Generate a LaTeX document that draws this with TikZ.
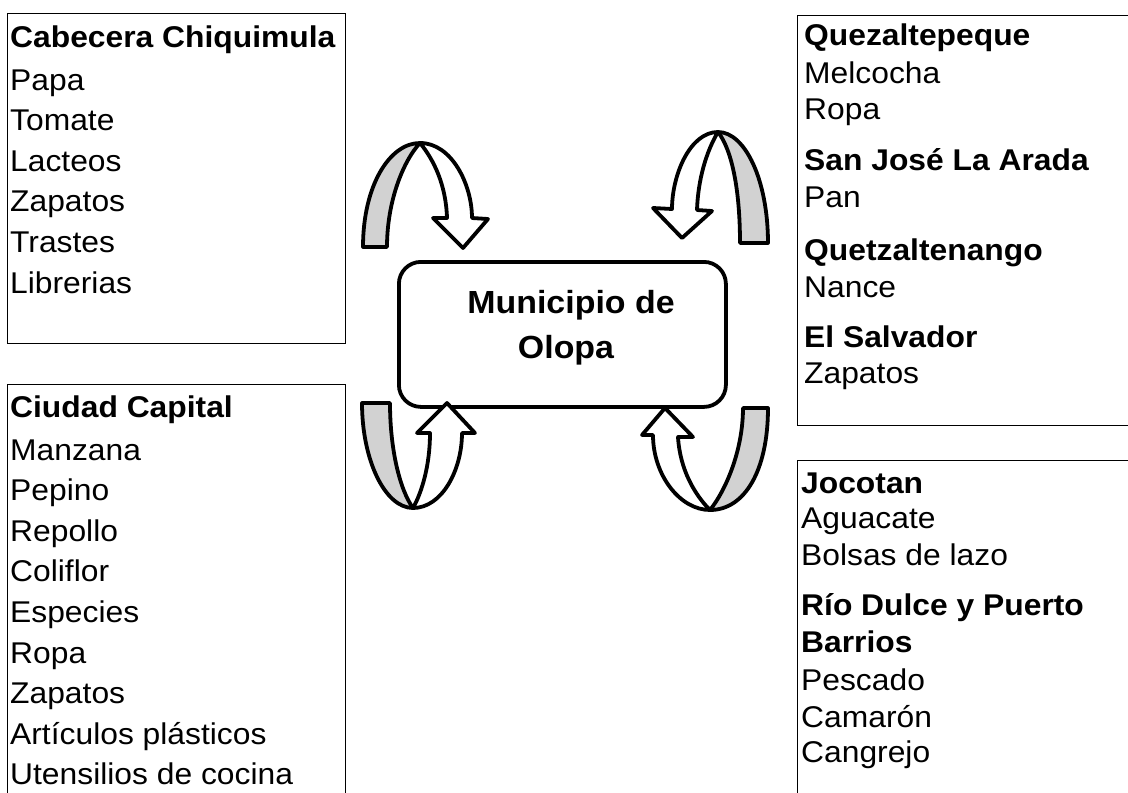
\documentclass[tikz,border=0pt]{standalone}
\usepackage{fontspec}
\setmainfont{Liberation Sans}[FakeStretch=1.06]
\begin{document}
\begin{tikzpicture}[x=1pt,y=-1pt]
\tikzset{
 listbox/.style={draw, line width=1.3pt, rectangle, anchor=north west, inner sep=0},
 itemtext/.style={font=\fontsize{30}{34}\selectfont, inner sep=0, anchor=base west},
 headtext/.style={font=\fontsize{30}{34}\selectfont\bfseries, inner sep=0, anchor=base west},
 centertext/.style={font=\fontsize{32}{40}\selectfont\bfseries, inner sep=0, anchor=base},
 arrowline/.style={draw=black, line width=3.8pt, line join=round},
 backface/.style={arrowline, fill=gray!35},
 frontface/.style={arrowline, fill=white}
}
\clip (0,0) rectangle (1128,793);
\fill[white] (0,0) rectangle (1128,793);

% boxes
\node[listbox, minimum width=338pt, minimum height=330pt] (boxTL) at (7,13) {};
\node[listbox, minimum width=338pt, minimum height=430pt] (boxBL) at (7,384) {};
\node[listbox, minimum width=345pt, minimum height=410pt] (boxTR) at (797,15) {};
\node[listbox, minimum width=345pt, minimum height=350pt] (boxBR) at (797,460) {};
\node[draw, line width=3.8pt, rounded corners=22pt, minimum width=327pt, minimum height=145pt, anchor=north west, inner sep=0] (mun) at (397,260) {};
\node[centertext] (mun1) at (571,313) {Municipio de};
\node[centertext] (mun2) at (566,358) {Olopa};

% top-left list
\node[headtext] (tlh) at (10,47) {Cabecera Chiquimula};
\foreach \t [count=\i from 0] in {Papa,Tomate,Lacteos,Zapatos,Trastes,Librerias}
  \node[itemtext] (tl\i) at ({10},{90+40.6*\i}) {\t};

% bottom-left list
\node[headtext] (blh) at (10,417) {Ciudad Capital};
\foreach \t [count=\i from 0] in {Manzana,Pepino,Repollo,Coliflor,Especies,Ropa,Zapatos,Artículos plásticos,Utensilios de cocina}
  \node[itemtext] (bl\i) at ({10},{460+40.6*\i}) {\t};

% top-right list
\foreach \t/\y/\f [count=\i] in {Quezaltepeque/45/\bfseries, Melcocha/83/\relax, Ropa/119/\relax, San José La Arada/170/\bfseries, Pan/207/\relax, Quetzaltenango/260/\bfseries, Nance/297/\relax, El Salvador/347/\bfseries, Zapatos/383/\relax}
  \node[itemtext] (tr\i) at ({804},{\y}) {\f\t};

% bottom-right list
\foreach \t/\y/\f [count=\i] in {Jocotan/493/\bfseries, Aguacate/528/\relax, Bolsas de lazo/565/\relax, Río Dulce y Puerto/615/\bfseries, Barrios/652/\bfseries, Pescado/690/\relax, Camarón/727/\relax, Cangrejo/762/\relax}
  \node[itemtext] (br\i) at ({801},{\y}) {\f\t};

% curved arrows
% top-left
\draw[backface] (363,247) .. controls (363,185) and (390,143) .. (420,143) .. controls (404,160) and (387,200) .. (387,247) -- cycle;
\draw[frontface] (420,143) .. controls (452,143) and (472,185) .. (472,218) -- (488,219) -- (463,248) -- (433,218) -- (447,218) .. controls (446,185) and (434,160) .. (420,143) -- cycle;
% top-right
\draw[backface] (768,243) .. controls (768,180) and (745,132) .. (718,132) .. controls (732,150) and (740,190) .. (740,243) -- cycle;
\draw[frontface] (718,132) .. controls (690,132) and (672,175) .. (672,209) -- (653,208) -- (682,238) -- (712,211) -- (697,210) .. controls (698,180) and (706,152) .. (718,132) -- cycle;
% bottom-left
\draw[backface] (362,403) .. controls (362,460) and (385,508) .. (413,508) .. controls (400,490) and (390,450) .. (390,403) -- cycle;
\draw[frontface] (413,508) .. controls (442,508) and (462,470) .. (462,433) -- (475,433) -- (447,403) -- (417,433) -- (430,433) .. controls (430,465) and (422,492) .. (413,508) -- cycle;
% bottom-right
\draw[backface] (768,408) .. controls (768,470) and (745,510) .. (710,510) .. controls (726,490) and (743,450) .. (743,408) -- cycle;
\draw[frontface] (710,510) .. controls (680,510) and (653,475) .. (653,435) -- (642,435) -- (665,408) -- (693,437) -- (678,437) .. controls (680,470) and (695,495) .. (710,510) -- cycle;
\end{tikzpicture}
\end{document}
